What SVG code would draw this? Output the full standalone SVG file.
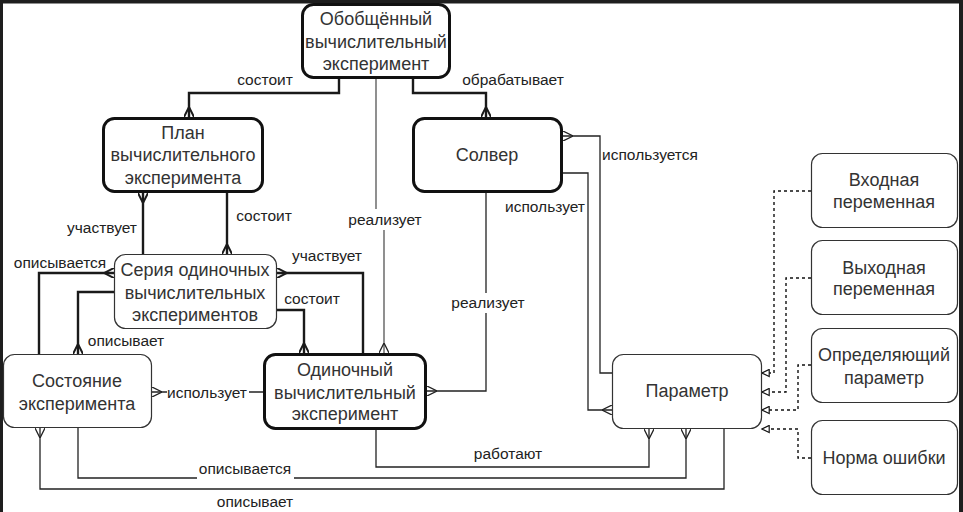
<svg xmlns="http://www.w3.org/2000/svg" width="963" height="512" viewBox="0 0 963 512">
<style>
.nt{font-family:"Liberation Sans",Arial,sans-serif;font-size:18px;fill:#333;text-anchor:middle}
.lb{font-family:"Liberation Sans",Arial,sans-serif;font-size:15.5px;fill:#222;text-anchor:middle}
.thick{fill:#fff;stroke:#111;stroke-width:3}
.thin{fill:#fff;stroke:#333;stroke-width:1.2}
.c2{fill:none;stroke:#1a1a1a;stroke-width:2.4}
.c1{fill:none;stroke:#222;stroke-width:1.3}
.cg{fill:none;stroke:#555;stroke-width:1.3}
.cd{fill:none;stroke:#111;stroke-width:1.4;stroke-dasharray:3 3}
.bg{fill:#fff}
</style>
<defs>
<marker id="m2e" viewBox="0 0 10 10" refX="10" refY="5" markerWidth="10" markerHeight="10" markerUnits="userSpaceOnUse" orient="auto"><path d="M10,0 L0,5 L10,10" fill="none" stroke="#1a1a1a" stroke-width="2"/></marker>
<marker id="m2s" viewBox="0 0 10 10" refX="10" refY="5" markerWidth="10" markerHeight="10" markerUnits="userSpaceOnUse" orient="auto-start-reverse"><path d="M10,0 L0,5 L10,10" fill="none" stroke="#1a1a1a" stroke-width="2"/></marker>
<marker id="m1e" viewBox="0 0 10 10" refX="10" refY="5" markerWidth="10" markerHeight="10" markerUnits="userSpaceOnUse" orient="auto"><path d="M10,0 L0,5 L10,10" fill="none" stroke="#222" stroke-width="1.3"/></marker>
<marker id="m1s" viewBox="0 0 10 10" refX="10" refY="5" markerWidth="10" markerHeight="10" markerUnits="userSpaceOnUse" orient="auto-start-reverse"><path d="M10,0 L0,5 L10,10" fill="none" stroke="#222" stroke-width="1.3"/></marker>
<marker id="tri" viewBox="0 0 10 10" refX="9" refY="5" markerWidth="9" markerHeight="9" markerUnits="userSpaceOnUse" orient="auto"><path d="M1,1 L9,5 L1,9 Z" fill="#fff" stroke="#111" stroke-width="1.3"/></marker>
</defs>
<rect x="0" y="0" width="963" height="512" fill="#fff"/>
<g id="frame" fill="#1e1e1e">
<rect x="0" y="0" width="963" height="3.5"/>
<rect x="0" y="0" width="3" height="512"/>
<rect x="959" y="0" width="4" height="512"/>
</g>
<g id="connectors">
<path class="c2" d="M339,79 V93 H189 V117" marker-end="url(#m2e)"/>
<path class="c2" d="M413,79 V93 H486 V117" marker-end="url(#m2e)"/>
<path class="c2" d="M143,193 V254" marker-start="url(#m2s)"/>
<path class="c2" d="M227,193 V254" marker-end="url(#m2e)"/>
<path class="c2" d="M114,273 H39 V354" marker-start="url(#m2s)"/>
<path class="c2" d="M114,292 H78 V354" marker-end="url(#m2e)"/>
<path class="c2" d="M277,273 H363 V353" marker-start="url(#m2s)"/>
<path class="c2" d="M277,310 H304 V353" marker-end="url(#m2e)"/>
<path class="cg" d="M376,79 V219 H384 V353" marker-end="url(#m1e)"/>
<path class="c1" d="M486,193 V391 H427" marker-end="url(#m1e)"/>
<path class="c1" d="M563,136 H600 V373 H612" marker-start="url(#m1s)"/>
<path class="c1" d="M563,173 H588 V410 H612" marker-end="url(#m1e)"/>
<path class="c1" d="M263,392 H152" marker-end="url(#m1e)"/>
<path class="c1" d="M376,430 V467 H649 V429" marker-end="url(#m1e)"/>
<path class="c1" d="M78,428 V478 H686 V429" marker-end="url(#m1e)"/>
<path class="c1" d="M40,428 V489 H724 V429" marker-start="url(#m1s)"/>
<path class="cd" d="M811,191 H774 V373 H762" marker-end="url(#tri)"/>
<path class="cd" d="M811,278 H786 V392 H762" marker-end="url(#tri)"/>
<path class="cd" d="M811,365 H798 V410 H762" marker-end="url(#tri)"/>
<path class="cd" d="M811,458 H798 V429 H762" marker-end="url(#tri)"/>
<rect class="bg" x="346" y="209" width="78" height="21"/>
<rect class="bg" x="448" y="293" width="80" height="20"/>
<rect class="bg" x="167" y="384" width="82" height="18"/>
<rect class="bg" x="197" y="460" width="97" height="21"/>
<text class="lb" x="265" y="85">состоит</text>
<text class="lb" x="513" y="85">обрабатывает</text>
<text class="lb" x="650" y="160">используется</text>
<text class="lb" x="545" y="212">использует</text>
<text class="lb" x="385" y="225">реализует</text>
<text class="lb" x="488" y="308">реализует</text>
<text class="lb" x="102" y="233">участвует</text>
<text class="lb" x="264" y="221">состоит</text>
<text class="lb" x="60" y="268">описывается</text>
<text class="lb" x="126" y="346">описывает</text>
<text class="lb" x="327" y="261">участвует</text>
<text class="lb" x="312" y="304">состоит</text>
<text class="lb" x="207" y="398">использует</text>
<text class="lb" x="508" y="459">работают</text>
<text class="lb" x="245" y="474">описывается</text>
<text class="lb" x="255" y="507">описывает</text>
</g>
<g id="n-generalized">
<rect class="thick" x="302.5" y="4.5" width="147" height="73" rx="11"/>
<text class="nt" x="376" y="25">Обобщённый</text>
<text class="nt" x="376" y="48">вычислительный</text>
<text class="nt" x="376" y="70">эксперимент</text>
</g>
<g id="n-plan">
<rect class="thick" x="103.5" y="118.5" width="159" height="73" rx="11"/>
<text class="nt" x="183" y="139">План</text>
<text class="nt" x="183" y="161">вычислительного</text>
<text class="nt" x="183" y="184">эксперимента</text>
</g>
<g id="n-solver">
<rect class="thick" x="413.5" y="118.5" width="148" height="73" rx="11"/>
<text class="nt" x="487" y="161">Солвер</text>
</g>
<g id="n-series">
<rect class="thin" x="114.5" y="254.5" width="162" height="74" rx="11"/>
<text class="nt" x="195" y="276">Серия одиночных</text>
<text class="nt" x="195" y="299">вычислительных</text>
<text class="nt" x="195" y="321">экспериментов</text>
</g>
<g id="n-state">
<rect class="thin" x="3.5" y="354.5" width="148" height="73" rx="11"/>
<text class="nt" x="77" y="387">Состояние</text>
<text class="nt" x="77" y="410">эксперимента</text>
</g>
<g id="n-single">
<rect class="thick" x="264.5" y="354.5" width="161" height="74" rx="11"/>
<text class="nt" x="345" y="376">Одиночный</text>
<text class="nt" x="345" y="399">вычислительный</text>
<text class="nt" x="345" y="420">эксперимент</text>
</g>
<g id="n-param">
<rect class="thin" x="612.5" y="354.5" width="149" height="74" rx="11"/>
<text class="nt" x="687" y="397">Параметр</text>
</g>
<g id="n-input">
<rect class="thin" x="811.5" y="153.5" width="146" height="74" rx="11"/>
<text class="nt" x="884" y="186">Входная</text>
<text class="nt" x="884" y="208">переменная</text>
</g>
<g id="n-output">
<rect class="thin" x="811.5" y="240.5" width="146" height="74" rx="11"/>
<text class="nt" x="884" y="274">Выходная</text>
<text class="nt" x="884" y="295">переменная</text>
</g>
<g id="n-defining">
<rect class="thin" x="811.5" y="328.5" width="146" height="74" rx="11"/>
<text class="nt" x="884" y="361">Определяющий</text>
<text class="nt" x="884" y="384">параметр</text>
</g>
<g id="n-norm">
<rect class="thin" x="811.5" y="420.5" width="146" height="74" rx="11"/>
<text class="nt" x="884" y="464">Норма ошибки</text>
</g>
</svg>
